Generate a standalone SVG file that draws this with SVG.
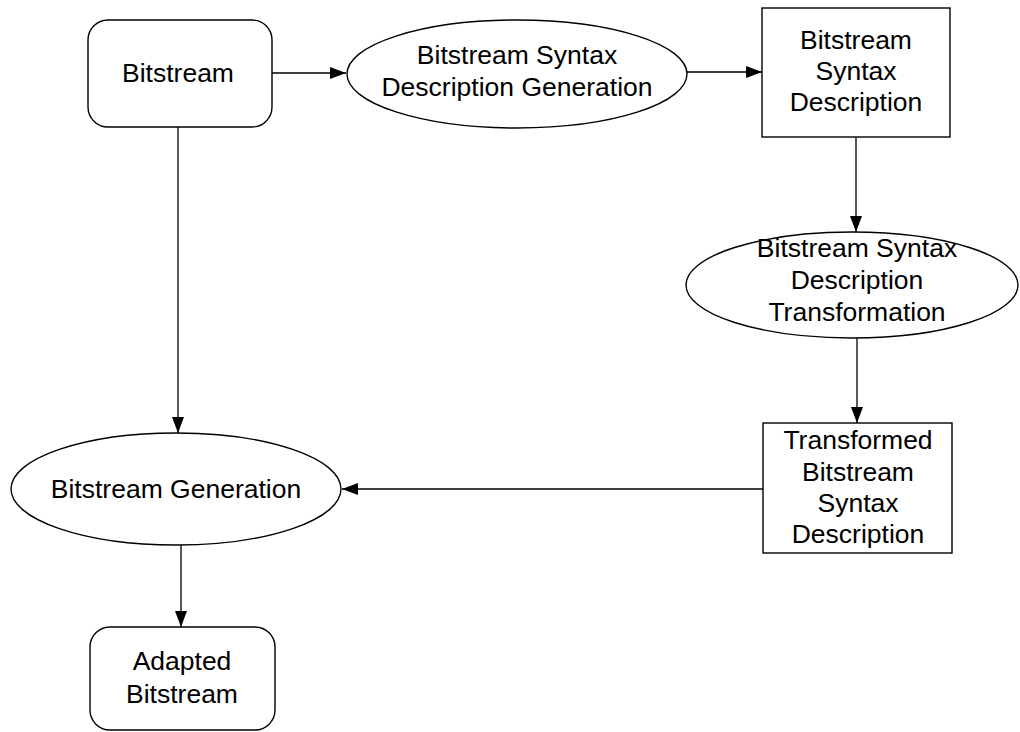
<svg xmlns="http://www.w3.org/2000/svg" width="1020" height="732" viewBox="0 0 1020 732">
  <style>
    .shape { fill: #ffffff; stroke: #000000; stroke-width: 1.4; }
    .edge { fill: none; stroke: #000000; stroke-width: 1.3; marker-end: url(#arrow); }
    text { font-family: "Liberation Sans", Arial, sans-serif; font-size: 26.5px; fill: #000000; text-anchor: middle; }
  </style>
  <defs>
    <marker id="arrow" viewBox="0 0 16 12" refX="16" refY="6" markerWidth="16" markerHeight="12" markerUnits="userSpaceOnUse" orient="auto">
      <path d="M0,0 L16,6 L0,12 Z" fill="#000000"/>
    </marker>
  </defs>
  <rect width="1020" height="732" fill="#ffffff"/>

  <g id="connectors">
    <line class="edge" x1="272" y1="73" x2="346" y2="73"/>
    <line class="edge" x1="687" y1="72" x2="762" y2="72"/>
    <line class="edge" x1="856" y1="137" x2="856" y2="232"/>
    <line class="edge" x1="857" y1="338" x2="857" y2="423"/>
    <line class="edge" x1="763" y1="489" x2="342" y2="489"/>
    <line class="edge" x1="178" y1="127" x2="178" y2="433"/>
    <line class="edge" x1="181" y1="545" x2="181" y2="627"/>
  </g>

  <g id="bitstream">
    <rect class="shape" x="88" y="20" width="184" height="107" rx="20" ry="20"/>
    <text x="178" y="82">Bitstream</text>
  </g>

  <g id="bsd-generation">
    <ellipse class="shape" cx="517" cy="74" rx="170" ry="54"/>
    <text x="517" y="64">Bitstream Syntax</text>
    <text x="517" y="96">Description Generation</text>
  </g>

  <g id="bsd">
    <rect class="shape" x="762" y="8" width="188" height="129"/>
    <text x="856" y="49">Bitstream</text>
    <text x="856" y="80">Syntax</text>
    <text x="856" y="111">Description</text>
  </g>

  <g id="bsd-transformation">
    <ellipse class="shape" cx="852" cy="285" rx="166" ry="53"/>
    <text x="857" y="257">Bitstream Syntax</text>
    <text x="857" y="289">Description</text>
    <text x="857" y="321">Transformation</text>
  </g>

  <g id="transformed-bsd">
    <rect class="shape" x="763" y="423" width="189" height="130"/>
    <text x="858" y="449">Transformed</text>
    <text x="858" y="481">Bitstream</text>
    <text x="858" y="512">Syntax</text>
    <text x="858" y="543">Description</text>
  </g>

  <g id="bitstream-generation">
    <ellipse class="shape" cx="176" cy="489" rx="165" ry="56"/>
    <text x="176" y="498">Bitstream Generation</text>
  </g>

  <g id="adapted-bitstream">
    <rect class="shape" x="90" y="627" width="185" height="103" rx="20" ry="20"/>
    <text x="182" y="670">Adapted</text>
    <text x="182" y="703">Bitstream</text>
  </g>
</svg>
